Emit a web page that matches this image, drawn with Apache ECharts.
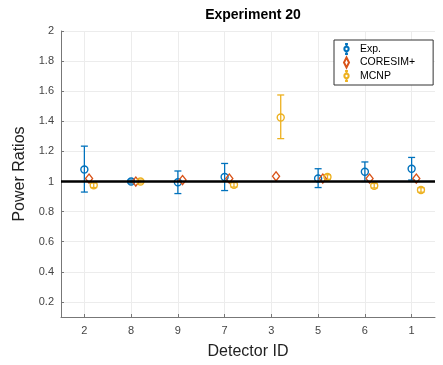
<!DOCTYPE html>
<html>
<head>
<meta charset="utf-8">
<script src="https://cdn.jsdelivr.net/npm/echarts@6/dist/echarts.min.js"></script>
<style>
  html, body { margin: 0; padding: 0; background: #fff; }
  #chart { width: 443px; height: 365px; }
</style>
</head>
<body>
<div id="chart"></div>
<script>
const detectorIds = ['2', '8', '9', '7', '3', '5', '6', '1']
const xTicks = [1, 2, 3, 4, 5, 6, 7, 8]
const yTicks = [0.2, 0.4, 0.6, 0.8, 1, 1.2, 1.4, 1.6, 1.8, 2]

// Exp. (null = not measured)
const expVal = [1.08, 1.0, 0.995, 1.03, null, 1.02, 1.065, 1.085]
const expLow = [0.93, 0.99, 0.92, 0.94, null, 0.96, 1.0, 1.01]
const expHigh = [1.235, 1.01, 1.07, 1.12, null, 1.085, 1.13, 1.16]

// CORESIM+
const coresimVal = [1.02, 1.0, 1.01, 1.02, 1.035, 1.02, 1.02, 1.02]

// MCNP
const mcnpVal = [0.975, 1.0, null, 0.978, 1.425, 1.03, 0.972, 0.944]
const mcnpLow = [0.96, 0.99, null, 0.963, 1.285, 1.015, 0.957, 0.929]
const mcnpHigh = [0.99, 1.01, null, 0.993, 1.575, 1.045, 0.987, 0.959]

const blue = '#0072BD'
const red = '#D95319'
const yellow = '#EDB120'

// errorbar-looking legend icon
const errIcon = 'path://M5,0L5,4M3,0L7,0M5,10L5,14M3,14L7,14M5,4A3,3 0 1,1 5,10A3,3 0 1,1 5,4Z'
const diaIcon = 'path://M5,0L8,6L5,12L2,6Z'

const points = (vals, shift) =>
  vals.map((v, i) => (v == null ? null : [xTicks[i] + shift, v])).filter(Boolean)
const bars = (lo, hi, shift) =>
  lo.map((v, i) => (v == null ? null : [xTicks[i] + shift, v, hi[i]])).filter(Boolean)

const errorBars = (name, data, color) => ({
  name,
  type: 'custom',
  data,
  z: 3,
  renderItem: (params, api) => {
    const x = api.value(0)
    const a = api.coord([x, api.value(1)])
    const b = api.coord([x, api.value(2)])
    const w = 3.5
    const style = { stroke: color, lineWidth: 1.3 }
    return {
      type: 'group',
      children: [
        { type: 'line', shape: { x1: a[0], y1: a[1], x2: b[0], y2: b[1] }, style },
        { type: 'line', shape: { x1: a[0] - w, y1: a[1], x2: a[0] + w, y2: a[1] }, style },
        { type: 'line', shape: { x1: b[0] - w, y1: b[1], x2: b[0] + w, y2: b[1] }, style },
      ],
    }
  },
})

const marker = (name, data, color, symbol, size) => ({
  name,
  type: 'scatter',
  data,
  symbol,
  symbolSize: size,
  z: 4,
  itemStyle: { color: 'rgba(255,255,255,0)', borderColor: color, borderWidth: 1.4, opacity: 1 },
})

const chart = echarts.init(document.getElementById('chart'))
const font = 'Liberation Sans, Arial, sans-serif'

chart.setOption({
  animation: false,
  title: {
    text: 'Experiment 20',
    left: 248,
    textAlign: 'center',
    top: 3,
    textStyle: { fontFamily: font, fontSize: 14, fontWeight: 'bold', color: '#000' },
  },
  legend: {
    data: [
      { name: 'Exp.', icon: errIcon },
      { name: 'CORESIM+', icon: diaIcon },
      { name: 'MCNP', icon: errIcon },
    ],
    orient: 'vertical',
    left: 334,
    top: 40,
    padding: [3, 18, 3, 9],
    itemGap: 1.5,
    itemWidth: 7,
    itemHeight: 10,
    backgroundColor: '#fff',
    borderColor: '#333',
    borderWidth: 1,
    borderRadius: 0,
    textStyle: { fontFamily: font, fontSize: 10.5, color: '#000', padding: [0, 0, 0, 5] },
  },
  grid: { left: 61, right: 8, top: 31, bottom: 46 },
  xAxis: {
    type: 'value',
    min: 0.5,
    max: 8.5,
    name: 'Detector ID',
    nameLocation: 'middle',
    nameGap: 27,
    nameTextStyle: { fontFamily: font, fontSize: 16, color: '#222' },
    axisLine: { lineStyle: { color: '#777', width: 1 } },
    axisTick: { inside: true, length: 3, customValues: xTicks, lineStyle: { color: '#777' } },
    axisLabel: {
      customValues: xTicks,
      formatter: v => detectorIds[Math.round(v) - 1],
      fontFamily: font,
      fontSize: 11,
      color: '#444',
      margin: 8,
    },
    splitLine: { show: true, lineStyle: { color: '#ececec', width: 1 } },
  },
  yAxis: {
    type: 'value',
    min: 0.1,
    max: 2,
    name: 'Power Ratios',
    nameLocation: 'middle',
    nameGap: 23,
    nameTextStyle: { fontFamily: font, fontSize: 16, color: '#222' },
    axisLine: { show: true, lineStyle: { color: '#777', width: 1 } },
    axisTick: { show: true, inside: true, length: 3, customValues: yTicks, lineStyle: { color: '#777' } },
    axisLabel: {
      customValues: yTicks,
      formatter: v => String(Math.round(v * 10) / 10),
      fontFamily: font,
      fontSize: 11,
      color: '#444',
      margin: 7,
    },
    splitLine: { show: true, lineStyle: { color: '#ececec', width: 1 } },
  },
  series: [
    {
      name: 'ref',
      type: 'line',
      data: [],
      markLine: {
        silent: true,
        symbol: 'none',
        label: { show: false },
        lineStyle: { color: '#000', width: 2.5, type: 'solid' },
        data: [{ yAxis: 1 }],
      },
      z: 2,
    },
    errorBars('Exp. err', bars(expLow, expHigh, 0), blue),
    errorBars('MCNP err', bars(mcnpLow, mcnpHigh, 0.2), yellow),
    marker('Exp.', points(expVal, 0), blue, 'circle', 7),
    marker('CORESIM+', points(coresimVal, 0.1), red, 'diamond', [7, 9]),
    marker('MCNP', points(mcnpVal, 0.2), yellow, 'circle', 7),
  ],
})
</script>
</body>
</html>
